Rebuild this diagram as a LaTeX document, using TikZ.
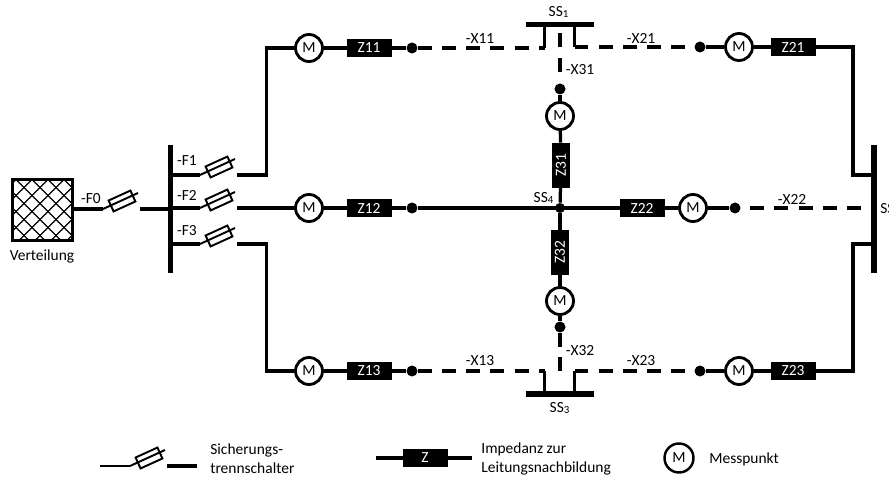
\documentclass[tikz,border=0pt]{standalone}
\usepackage{fontspec}
\setmainfont{Carlito}
\usetikzlibrary{calc}
\tikzset{
  wire/.style={line width=1.85pt},
  dwire/.style={line width=2.1pt,dash pattern=on 7.94pt off 5.84pt},
  vwire/.style={line width=2.1pt,dash pattern=on 7.94pt off 6.23pt},
  bus/.style={line width=2.9pt},
  arm/.style={line width=1.1pt},
  fuse/.style={draw,line width=1.1pt,rectangle,rotate=24.5,minimum width=0.48cm,minimum height=0.24cm,inner sep=0pt},
  mess/.style={draw,circle,line width=1.6pt,fill=white,minimum size=0.54cm,inner sep=0pt,font=\fontsize{8.8}{10}\selectfont},
  imp/.style={draw,fill=black,text=white,rectangle,minimum width=0.88cm,minimum height=0.34cm,inner sep=0pt,font=\fontsize{8.8}{10}\selectfont},
  dot/.style={fill=black,circle,minimum size=0.22cm,inner sep=0pt},
  lab/.style={inner sep=0pt,font=\fontsize{8.8}{10.8}\selectfont},
}
\begin{document}
\begin{tikzpicture}[x=0.02cm,y=-0.02cm]
\useasboundingbox (0,0) rectangle (889,479);
% Verteilung
\begin{scope}
\clip (12.5,179.5) rectangle (72.5,240.5);
\foreach \k in {-64,-48,...,80} {
  \draw[line width=0.8pt] (\k,179.5) -- ++(61,61);
  \draw[line width=0.8pt] (\k+3,240.5) -- ++(61,-61);
}
\end{scope}
\node[draw,line width=1.7pt,minimum width=1.2cm,minimum height=1.22cm,inner sep=0pt] (vert) at (42.5,210) {};
\node[lab] (vertlab) at (42,256) {Verteilung};
% sicherungen
\foreach \n/\x/\y in {0/103/209,1/200/175,2/200/208,3/200/244,4/130/466} {
  \coordinate (fa\n) at (\x,\y);
  \coordinate (fb\n) at ($(fa\n)+(35,-16)$);
  \coordinate (fc\n) at ($(fa\n)+(37,0)$);
  \node[fuse] (fuse\n) at ($(fa\n)+(19,-8)$) {};
  \draw[arm] (fa\n) -- (fb\n);
}
\node[lab] (f0lab) at (91,199) {-F0};
\node[lab] (f1lab) at (187,161) {-F1};
\node[lab] (f2lab) at (187,195) {-F2};
\node[lab] (f3lab) at (187,231) {-F3};
% sammelschienen
\coordinate (bl1) at (170.5,145);
\coordinate (bl2) at (170.5,273);
\coordinate (br1) at (874,145);
\coordinate (br2) at (874,273);
\coordinate (ss1a) at (526,24.5);
\coordinate (ss1b) at (594,24.5);
\coordinate (ss3a) at (526,394);
\coordinate (ss3b) at (594,394);
\draw[bus] (bl1) -- (bl2);
\draw[bus] (br1) -- (br2);
\draw[bus] (ss1a) -- (ss1b);
\draw[bus] (ss3a) -- (ss3b);
\node[lab] (ss1lab) at (559,12) {SS\textsubscript{1}};
\node[lab,anchor=west] (ss2lab) at (880,209) {SS\textsubscript{2}};
\node[lab] (ss3lab) at (560,408) {SS\textsubscript{3}};
\node[lab] (ss4lab) at (544,198) {SS\textsubscript{4}};
% messpunkte
\node[mess] (m11) at (309,48) {M};
\node[mess] (m12) at (309,208) {M};
\node[mess] (m13) at (309,371) {M};
\node[mess] (m21) at (739,47) {M};
\node[mess] (m22) at (693,208) {M};
\node[mess] (m23) at (739,371) {M};
\node[mess] (m31) at (560,116) {M};
\node[mess] (m32) at (560,301) {M};
% impedanzen
\node[imp] (z11) at (369,48) {Z11};
\node[imp] (z12) at (369,208) {Z12};
\node[imp] (z13) at (369,371) {Z13};
\node[imp] (z21) at (793,47) {Z21};
\node[imp] (z22) at (642,208) {Z22};
\node[imp] (z23) at (793,371) {Z23};
\node[imp,rotate=90] (z31) at (561,165) {Z31};
\node[imp,rotate=90] (z32) at (560,252) {Z32};
% punkte
\node[dot] (d11) at (412,48) {};
\node[dot] (d12) at (412,208) {};
\node[dot] (d13) at (412,371) {};
\node[dot] (d21) at (700,47) {};
\node[dot] (d22) at (735,208) {};
\node[dot] (d23) at (700,371) {};
\node[dot] (d31) at (560,89) {};
\node[dot] (d32) at (560,327) {};
\node[dot,minimum size=0.2cm] (ss4) at (560,208) {};
% linke seite
\coordinate (kn1) at (266.5,48);
\coordinate (kn3) at (266.5,371);
\coordinate (kn4) at (853,47);
\coordinate (kn5) at (853,371);
\draw[wire] (vert.east |- fa0) -- (fa0);
\draw[wire] (fc0) -- (bl1 |- fc0);
\draw[wire] (bl1 |- fa1) -- (fa1);
\draw[wire] (bl1 |- fa2) -- (fa2);
\draw[wire] (bl1 |- fa3) -- (fa3);
\draw[wire] (fc1) -| (kn1) -- (m11);
\draw[wire] (fc2) -- (m12);
\draw[wire] (fc3) -| (kn3) -- (m13);
% rechte seite
\draw[wire] (z21) -- (kn4) |- (br1 |- fa1);
\draw[wire] (z23) -- (kn5) |- (br1 |- fa3);
% waagerechte leitungen
\foreach \a/\b in {m11/z11,z11/d11,m12/z12,z12/d12,d12/z22,z22/m22,m22/d22,m13/z13,z13/d13,d21/m21,m21/z21,d23/m23,m23/z23} {
  \draw[wire] (\a) -- (\b);
}
\draw[wire] (m31) -- (z31);
\draw[wire] (z31) -- (ss4);
\draw[wire] (ss4) -- (z32);
\draw[wire] (z32) -- (m32);
\draw[wire] (m31) -- (d31);
\draw[wire] (m32) -- (d32);
% stichleitungen
\coordinate (s11) at (544.5,48);
\coordinate (s21) at (574.5,47);
\coordinate (s13) at (544.5,371);
\coordinate (s23) at (574.5,371);
\draw[wire] (s11 |- ss1a) -- (s11);
\draw[wire] (s21 |- ss1a) -- (s21);
\draw[wire] (s13 |- ss3a) -- (s13);
\draw[wire] (s23 |- ss3a) -- (s23);
% gestrichelt
\draw[dwire] (d11) -- (s11);
\draw[dwire] (s21) -- (d21);
\draw[dwire] (d13) -- (s13);
\draw[dwire] (s23) -- (d23);
\draw[dwire,dash phase=8.5pt] (d22) -- (br1 |- d22);
\draw[vwire,dash phase=7.94pt] (d31) -- (d31 |- ss1a);
\draw[vwire,dash pattern=on 7.94pt off 5.67pt on 7.94pt off 11.34pt] (d32) -- (d32 |- ss3a);
\node[lab] (x11) at (480,39) {-X11};
\node[lab] (x21) at (641,38) {-X21};
\node[lab] (x22) at (792,199) {-X22};
\node[lab] (x13) at (480,361) {-X13};
\node[lab] (x23) at (641,361) {-X23};
\node[lab] (x31) at (580,70) {-X31};
\node[lab] (x32) at (580,351) {-X32};
% legende
\coordinate (fl) at (100,466);
\coordinate (fr) at (197,466);
\draw[arm] (fl) -- (fa4);
\draw[wire] (fc4) -- (fr);
\node[lab,align=left,anchor=west] (sitxt) at (210,458.5) {Sicherungs-\\trennschalter};
\node[imp] (zleg) at (425,458) {Z};
\coordinate (zla) at (376,458);
\coordinate (zlb) at (472,458);
\draw[wire] (zla) -- (zleg);
\draw[wire] (zleg) -- (zlb);
\node[lab,align=left,anchor=west] (ztxt) at (481,458.5) {Impedanz zur\\Leitungsnachbildung};
\node[mess,minimum size=0.58cm,line width=1.4pt] (mleg) at (679,458) {M};
\node[lab,anchor=west] (mtxt) at (709,459) {Messpunkt};
\end{tikzpicture}
\end{document}
